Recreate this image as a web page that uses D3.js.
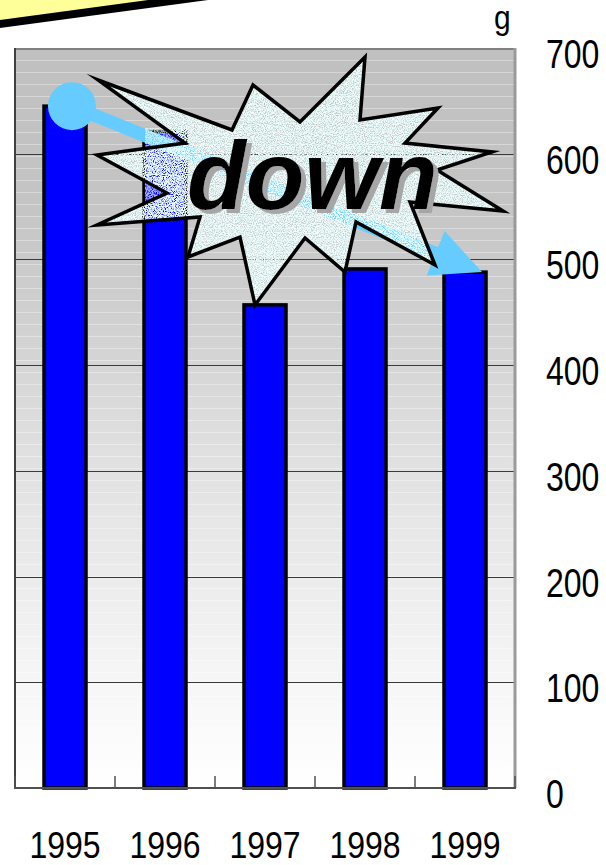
<!DOCTYPE html>
<html>
<head>
<meta charset="utf-8">
<script src="https://cdn.jsdelivr.net/npm/d3@7/dist/d3.min.js"></script>
<style>
  html, body { margin: 0; padding: 0; background: #ffffff; }
  svg { display: block; }
  text { font-family: "Liberation Sans", Arial, sans-serif; }
</style>
</head>
<body>
<svg id="chart" width="606" height="865"></svg>
<script>
// Annual amounts (grams)
const years = ["1995", "1996", "1997", "1998", "1999"];
const values = [645, 621, 457, 491, 488];
const yTicks = [0, 100, 200, 300, 400, 500, 600, 700];
const unitLabel = "g";
const calloutText = "down";

// Explosion callout outline, clockwise from the upper-left spike
const burstPoints = [
  [98, 80], [232, 130], [253, 85], [300, 122], [365, 57], [360, 120],
  [438, 108], [405, 143], [492, 152], [437, 170], [503, 211], [410, 202],
  [435, 265], [356, 222], [345, 272], [305, 238], [255, 305], [240, 237],
  [188, 257], [200, 217], [97, 225], [167, 193], [97, 155], [185, 143]
];

const plot = { left: 15, right: 515, top: 48, bottom: 788 };

const svg = d3.select("#chart");
const defs = svg.append("defs");

const x = d3.scaleBand()
  .domain(years)
  .range([plot.left, plot.right])
  .paddingInner(0.58)
  .paddingOuter(0.29);

const y = d3.scaleLinear()
  .domain([0, 700])
  .range([plot.bottom, plot.top]);

// Plot background: grey at the top fading to white
const grad = defs.append("linearGradient")
  .attr("id", "bg").attr("x1", 0).attr("y1", 0).attr("x2", 0).attr("y2", 1);
[[0, "#c0c0c0"], [0.2, "#c4c4c4"], [0.35, "#cfcfcf"], [0.55, "#e0e0e0"],
 [0.72, "#ececec"], [0.87, "#f7f7f7"], [1, "#ffffff"]].forEach(([o, c]) => {
  grad.append("stop").attr("offset", o).attr("stop-color", c);
});

// Speckled, see-through fill for the callout
const f = defs.append("filter").attr("id", "speckle")
  .attr("x", "-5%").attr("y", "-5%").attr("width", "110%").attr("height", "110%");
f.append("feTurbulence").attr("type", "fractalNoise")
  .attr("baseFrequency", 0.9).attr("numOctaves", 2).attr("seed", 7).attr("result", "noise");
f.append("feColorMatrix").attr("in", "noise").attr("type", "matrix")
  .attr("values", "0 0 0 0 0.84  0 0 0 0 1  0 0 0 0 1  3.2 0 0 0 -0.86")
  .attr("result", "dots");
f.append("feComposite").attr("in", "dots").attr("in2", "SourceGraphic").attr("operator", "in");

// Grey drop shadow behind the callout word
const sh = defs.append("filter").attr("id", "wordShadow")
  .attr("x", "-10%").attr("y", "-10%").attr("width", "125%").attr("height", "130%");
sh.append("feOffset").attr("in", "SourceAlpha").attr("dx", 5).attr("dy", 4).attr("result", "off");
sh.append("feFlood").attr("flood-color", "#a6a6a6").attr("result", "grey");
sh.append("feComposite").attr("in", "grey").attr("in2", "off").attr("operator", "in").attr("result", "shadow");
const merge = sh.append("feMerge");
merge.append("feMergeNode").attr("in", "shadow");
merge.append("feMergeNode").attr("in", "SourceGraphic");

svg.append("rect")
  .attr("x", plot.left).attr("y", plot.top)
  .attr("width", plot.right - plot.left).attr("height", plot.bottom - plot.top)
  .attr("fill", "url(#bg)");

// faint banding lines in the background fill
const bands = d3.range(plot.top + 12, plot.bottom, 12);
svg.append("g").selectAll("line").data(bands).join("line")
  .attr("x1", plot.left).attr("x2", plot.right)
  .attr("y1", d => d + 0.5).attr("y2", d => d + 0.5)
  .attr("stroke", "#ffffff").attr("stroke-opacity", 0.35).attr("stroke-width", 1);

// major gridlines
svg.append("g").selectAll("line").data(yTicks.slice(1, -1)).join("line")
  .attr("x1", plot.left).attr("x2", plot.right)
  .attr("y1", d => Math.round(y(d)) + 0.5).attr("y2", d => Math.round(y(d)) + 0.5)
  .attr("stroke", "#3a3a3a").attr("stroke-width", 1.2);

// bars
svg.append("g").selectAll("rect").data(years).join("rect")
  .attr("x", d => x(d))
  .attr("y", (d, i) => y(values[i]))
  .attr("width", x.bandwidth())
  .attr("height", (d, i) => y(0) - y(values[i]))
  .attr("fill", "#0000ff")
  .attr("stroke", "#000000")
  .attr("stroke-width", 3.5);

// trend arrow from the first year to the last year
const arrowColor = "#66ccff";
const start = [x(years[0]) + x.bandwidth() / 2 + 7, y(values[0])];
const tip = [x(years[4]) + x.bandwidth() / 2 + 17, y(values[4])];
const ang = Math.atan2(tip[1] - start[1], tip[0] - start[0]);
const headLen = 50, headHalf = 24;
const base = [tip[0] - headLen * Math.cos(ang), tip[1] - headLen * Math.sin(ang)];
const nx = -Math.sin(ang), ny = Math.cos(ang);

const arrow = svg.append("g");
arrow.append("line")
  .attr("x1", start[0]).attr("y1", start[1])
  .attr("x2", base[0]).attr("y2", base[1])
  .attr("stroke", arrowColor).attr("stroke-width", 13);
arrow.append("path")
  .attr("d", d3.line()([
    tip,
    [base[0] + nx * headHalf, base[1] + ny * headHalf],
    [base[0] - nx * headHalf, base[1] - ny * headHalf]
  ]) + "Z")
  .attr("fill", arrowColor);
arrow.append("circle")
  .attr("cx", start[0]).attr("cy", start[1]).attr("r", 24)
  .attr("fill", arrowColor);

// callout: speckled fill, then outline
const burst = d3.line()(burstPoints) + "Z";
const b1996 = x(years[1]);
svg.append("rect")
  .attr("x", b1996 + 1).attr("y", 128)
  .attr("width", x.bandwidth() - 1).attr("height", 89)
  .attr("fill", "#000").attr("filter", "url(#speckle)").attr("opacity", 0.7);
svg.append("path").attr("d", burst)
  .attr("fill", "#000").attr("filter", "url(#speckle)");
svg.append("path").attr("d", burst)
  .attr("fill", "none").attr("stroke", "#000000")
  .attr("stroke-width", 3.5).attr("stroke-linejoin", "miter").attr("stroke-miterlimit", 20);

// callout word with drop shadow
svg.append("text")
  .attr("x", 187).attr("y", 209)
  .attr("font-weight", "bold").attr("font-style", "italic").attr("font-size", 96)
  .attr("fill", "#000000").attr("filter", "url(#wordShadow)")
  .text(calloutText);

// plot frame
svg.append("line").attr("x1", plot.left).attr("x2", plot.right)
  .attr("y1", plot.top + 1).attr("y2", plot.top + 1)
  .attr("stroke", "#808080").attr("stroke-width", 2);
svg.append("line").attr("x1", plot.right).attr("x2", plot.right)
  .attr("y1", plot.top).attr("y2", plot.bottom)
  .attr("stroke", "#9a9a9a").attr("stroke-width", 3);
svg.append("line").attr("x1", plot.left).attr("x2", plot.left)
  .attr("y1", plot.top).attr("y2", plot.bottom)
  .attr("stroke", "#404040").attr("stroke-width", 2);
svg.append("line").attr("x1", plot.left - 1).attr("x2", plot.right + 1)
  .attr("y1", plot.bottom).attr("y2", plot.bottom)
  .attr("stroke", "#505050").attr("stroke-width", 2);

// category boundary ticks along the bottom
const bounds = d3.range(years.length + 1).map(i => plot.left + i * x.step());
svg.append("g").selectAll("line").data(bounds).join("line")
  .attr("x1", d => d).attr("x2", d => d)
  .attr("y1", plot.bottom).attr("y2", plot.bottom - 12)
  .attr("stroke", "#505050").attr("stroke-width", 1.5);

// value axis on the right
const yAxis = svg.append("g")
  .attr("transform", `translate(${plot.right},0)`)
  .call(d3.axisRight(y).tickValues(yTicks).tickSize(0).tickPadding(31));
yAxis.select(".domain").remove();
yAxis.selectAll("text")
  .attr("dy", null)
  .attr("transform", "translate(0,19.5) scale(1,1.25)")
  .attr("font-size", 32).attr("fill", "#000")
  .style("font-family", '"Liberation Sans", Arial, sans-serif');

// year axis
const xAxis = svg.append("g")
  .attr("transform", `translate(0,${plot.bottom})`)
  .call(d3.axisBottom(x).tickSize(0).tickPadding(0));
xAxis.select(".domain").remove();
xAxis.selectAll("text")
  .attr("y", 0).attr("dy", null)
  .attr("transform", "translate(0,69.5) scale(1,1.15)")
  .attr("font-size", 32).attr("fill", "#000")
  .style("font-family", '"Liberation Sans", Arial, sans-serif');

// unit label
svg.append("text")
  .attr("x", 494).attr("y", 29)
  .attr("font-size", 30).attr("fill", "#000")
  .attr("transform", "translate(0,29) scale(1,1.1) translate(0,-29)")
  .text(unitLabel);

// title banner corner at the top left
const bannerA = [-20, 26.7], bannerB = [230, -7];
svg.append("path")
  .attr("d", d3.line()([bannerA, bannerB, [230, -60], [-20, -60]]) + "Z")
  .attr("fill", "#ffff99");
svg.append("line")
  .attr("x1", bannerA[0]).attr("y1", bannerA[1])
  .attr("x2", bannerB[0]).attr("y2", bannerB[1])
  .attr("stroke", "#000").attr("stroke-width", 8);
</script>
</body>
</html>
